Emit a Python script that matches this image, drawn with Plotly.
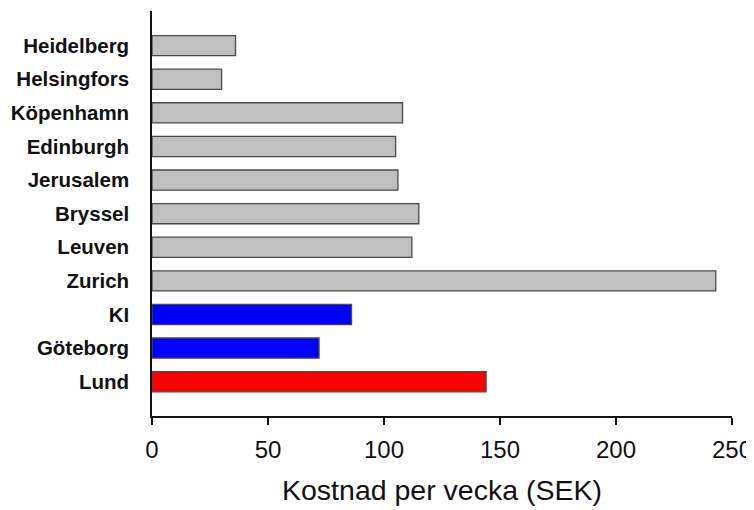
import plotly.graph_objects as go

cities = ["Heidelberg", "Helsingfors", "Köpenhamn", "Edinburgh", "Jerusalem",
          "Bryssel", "Leuven", "Zurich", "KI", "Göteborg", "Lund"]
costs = [36, 30, 108, 105, 106, 115, 112, 243, 86, 72, 144]
bar_colors = ["#C0C0C0"] * 8 + ["#0000FF", "#0000FF", "#FF0000"]
x_ticks = [0, 50, 100, 150, 200, 250]
x_title = "Kostnad per vecka (SEK)"

# bottom-to-top order for plotting
cats = cities[::-1]
vals = costs[::-1]
cols = bar_colors[::-1]

fig = go.Figure(go.Bar(
    x=vals, y=cats, orientation="h",
    marker=dict(color=cols, line=dict(color="#4a4a4a", width=1.3)),
))

# page body has an 8px margin, so the figure is sized to fit the 754x510 window
fig.update_layout(
    width=746, height=502,
    margin=dict(l=143.5, r=22, t=3, b=93.5, pad=0),
    paper_bgcolor="white", plot_bgcolor="white",
    bargap=0.4,
    showlegend=False,
    font=dict(family="Liberation Sans, Arial, sans-serif", color="#111111"),
)

fig.update_xaxes(
    automargin=False,
    range=[0, 250], tickvals=x_ticks, ticktext=[str(v) for v in x_ticks],
    showgrid=False, zeroline=False,
    showline=True, linecolor="#111111", linewidth=1.5,
    ticks="outside", ticklen=7, tickwidth=1.5, tickcolor="#111111",
    tickfont=dict(size=24, color="#111111"),
    ticklabelstandoff=4,
    title=dict(text=x_title, font=dict(size=28.5, color="#111111"), standoff=19),
)

fig.update_yaxes(
    automargin=False,
    type="category", categoryorder="array", categoryarray=cats,
    range=[-1.02, 11.03],
    showgrid=False, zeroline=False,
    showline=True, linecolor="#111111", linewidth=1.5,
    ticks="", ticklabelstandoff=17,
    tickfont=dict(size=20.5, color="#111111", family="Liberation Sans, Arial, sans-serif", weight="bold"),
)

fig.write_html("out.html")
